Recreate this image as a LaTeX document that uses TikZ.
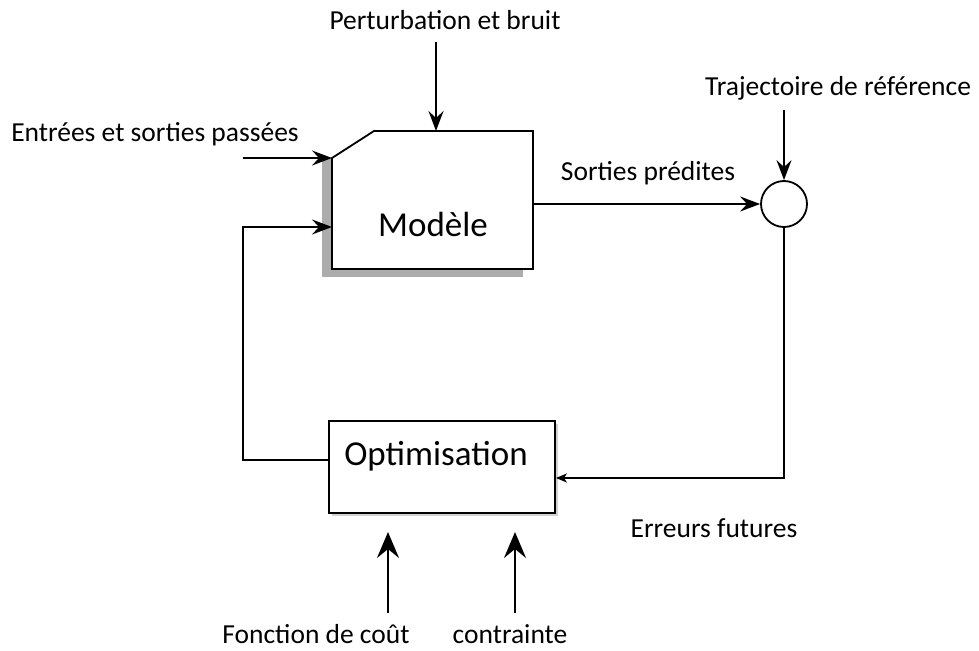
\documentclass[tikz,border=0pt]{standalone}
\usepackage{fontspec}
\setmainfont{Carlito}
\usetikzlibrary{arrows.meta,calc}
\begin{document}
\begin{tikzpicture}[x=1pt,y=-1pt,
  line width=1.8pt,
  arr/.style={-{Stealth[length=20pt,width=15pt,inset=7pt]}},
  bigarr/.style={-{Stealth[length=26pt,width=22pt,inset=9pt]}},
  smallarr/.style={-{Stealth[length=11pt,width=9pt,inset=3pt]}},
  lbl/.style={font=\fontsize{27.5}{30}\selectfont, inner sep=0pt},
  boxtxt/.style={font=\fontsize{35}{40}\selectfont, inner sep=0pt},
  frame/.style={draw=none, inner sep=0pt, outer sep=0pt}]
\useasboundingbox (0,0) rectangle (979,650);

% model block
\fill[gray!65] (322,158) rectangle (523,277);
\node[frame, minimum width=201pt, minimum height=138pt] (model) at (432.5,200) {};
\draw[fill=white] ($(model.north west)+(0,27)$) -- ($(model.north west)+(42,0)$)
  -- (model.north east) -- (model.south east) -- (model.south west) -- cycle;
\node[boxtxt] (modeltxt) at (433,224) {Modèle};

% optimisation block
\fill[gray!35] (332,424) rectangle (558,516);
\node[draw, fill=white, inner sep=0pt, minimum width=226pt, minimum height=92pt] (opt) at (442,467) {};
\node[boxtxt] (opttxt) at (436,456) {Optimisation};

% summing junction
\node[draw, circle, minimum size=46pt, inner sep=0pt] (sum) at (784,204) {};

% labels
\node[lbl] (pert) at (445,20) {Perturbation et bruit};
\node[lbl] (traj) at (838,88) {Trajectoire de référence};
\node[lbl] (ent) at (155,134) {Entrées et sorties passées};
\node[lbl] (sort) at (648,173) {Sorties prédites};
\node[lbl] (err) at (714,528) {Erreurs futures};
\node[lbl] (cost) at (316,634) {Fonction de coût};
\node[lbl] (cons) at (510,634) {contrainte};

% connectors
\coordinate (pertin) at (436,42);
\draw[arr] (pertin) -- (pertin |- model.north);

\coordinate (entin) at (243,158);
\draw[arr] (entin) -- (model.west |- entin);

\draw[arr] (model.east |- sum) -- (sum.west);

\coordinate (trajin) at (784,110);
\draw[arr] (trajin) -- (sum.north);

\coordinate (errcorner) at (784,478);
\draw (sum.south) -- (errcorner) -- ($(opt.east |- errcorner)+(12,0)$);
\draw[smallarr] ($(opt.east |- errcorner)+(14,0)$) -- (opt.east |- errcorner);

\coordinate (fbbot) at (243,460);
\coordinate (fbtop) at (243,227);
\draw[arr] (opt.west |- fbbot) -- (fbbot) -- (fbtop) -- (model.west |- fbtop);

\coordinate (costin) at (388,613);
\coordinate (costtip) at (388,532);
\draw[bigarr] (costin) -- (costtip);
\coordinate (consin) at (515,613);
\coordinate (constip) at (515,532);
\draw[bigarr] (consin) -- (constip);
\end{tikzpicture}
\end{document}
